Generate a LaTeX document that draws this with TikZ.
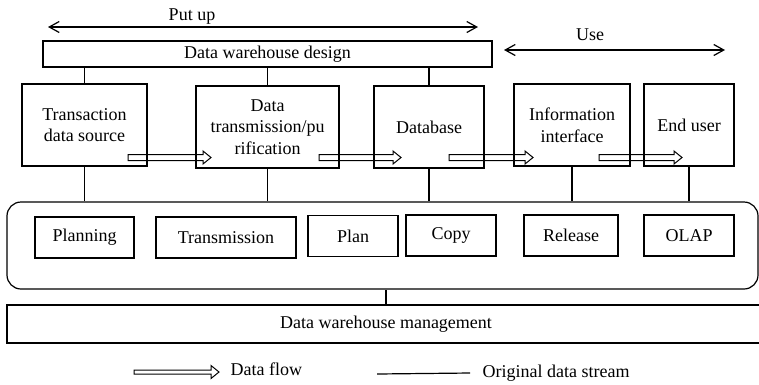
\documentclass[tikz,border=0pt]{standalone}
\usepackage{fontspec}
\setmainfont{Liberation Serif}
\usetikzlibrary{arrows.meta}
\newcommand\flowarrow[4]{% x1, x2, y, shaft half
  \draw[flow] (#1,#3-#4) -- (#2-8,#3-#4) -- (#2-8,#3-6.5) -- (#2,#3) -- (#2-8,#3+6.5) -- (#2-8,#3+#4) -- (#1,#3+#4) -- cycle;}
\begin{document}
\begin{tikzpicture}[x=1pt,y=-1pt,line width=1.2pt,
  txt/.style={font=\fontsize{18}{21.5}\selectfont, inner sep=0pt, align=center},
  box/.style={txt, draw},
  flow/.style={line width=1pt, line join=miter},
  span/.style={line width=1.2pt, {Straight Barb[length=10pt,width=11pt]}-{Straight Barb[length=10pt,width=11pt]}},
]
\useasboundingbox (0,0) rectangle (759,384);
\clip (0,0) rectangle (759,384);

% top row
\node[box, minimum width=449pt, minimum height=26pt] (design) at (267.5,54) {Data warehouse design};
\node[box, minimum width=125pt, minimum height=82pt] (ts) at (84.5,125) {Transaction\\data source};
\node[box, minimum width=143pt, minimum height=82pt] (dt) at (267.5,127) {Data\\transmission/pu\\rification};
\node[box, minimum width=110pt, minimum height=82pt] (db) at (429,127) {Database};
\node[box, minimum width=116pt, minimum height=82pt] (ii) at (572,125) {Information\\interface};
\node[box, minimum width=90pt, minimum height=82pt] (eu) at (689,125) {End user};

% rounded container
\node[draw, rounded corners=14pt, minimum width=751pt, minimum height=87pt, inner sep=0pt] (rr) at (382.5,245.5) {};
\node[box, minimum width=99pt, minimum height=41pt] (pl) at (84.5,237.5) {Planning};
\node[box, minimum width=140pt, minimum height=41pt] (tr) at (226,237.5) {Transmission};
\node[box, minimum width=90pt, minimum height=41pt] (pn) at (353,236) {Plan};
\node[box, minimum width=90pt, minimum height=41pt] (cp) at (451,235.5) {Copy};
\node[box, minimum width=94pt, minimum height=41pt] (rl) at (571,235.5) {Release};
\node[box, minimum width=90pt, minimum height=41pt] (ol) at (689,235.5) {OLAP};

% management
\node[box, minimum width=758pt, minimum height=38pt] (mg) at (386,324) {Data warehouse management};

% original data stream lines
\foreach \n in {ts,dt,db} \draw (\n.north) -- (\n.north |- design.south);
\foreach \n in {ts,dt,db,ii,eu} \draw (\n.south) -- (\n.south |- rr.north);
\draw (mg.north) -- (mg.north |- rr.south);

% span arrows
\coordinate (pu1) at (48,27); \coordinate (pu2) at (478,27);
\draw[span] (pu1) -- (pu2);
\node[txt] (putup) at (192,17) {Put up};
\coordinate (us1) at (504,50); \coordinate (us2) at (725,50);
\draw[span] (us1) -- (us2);
\node[txt] (use) at (590,35) {Use};

% data flow arrows
\flowarrow{128}{211}{157.5}{3}
\flowarrow{319}{401}{157.5}{3}
\flowarrow{449}{533}{157.5}{3}
\flowarrow{599}{682}{157.5}{3}

% legend
\flowarrow{134}{219}{372}{2}
\node[txt, anchor=west] (lg1) at (230,369) {Data flow};
\coordinate (lo1) at (377,374); \coordinate (lo2) at (470,373);
\draw (lo1) -- (lo2);
\node[txt, anchor=west] (lg2) at (482,373) {Original data stream};
\end{tikzpicture}
\end{document}
